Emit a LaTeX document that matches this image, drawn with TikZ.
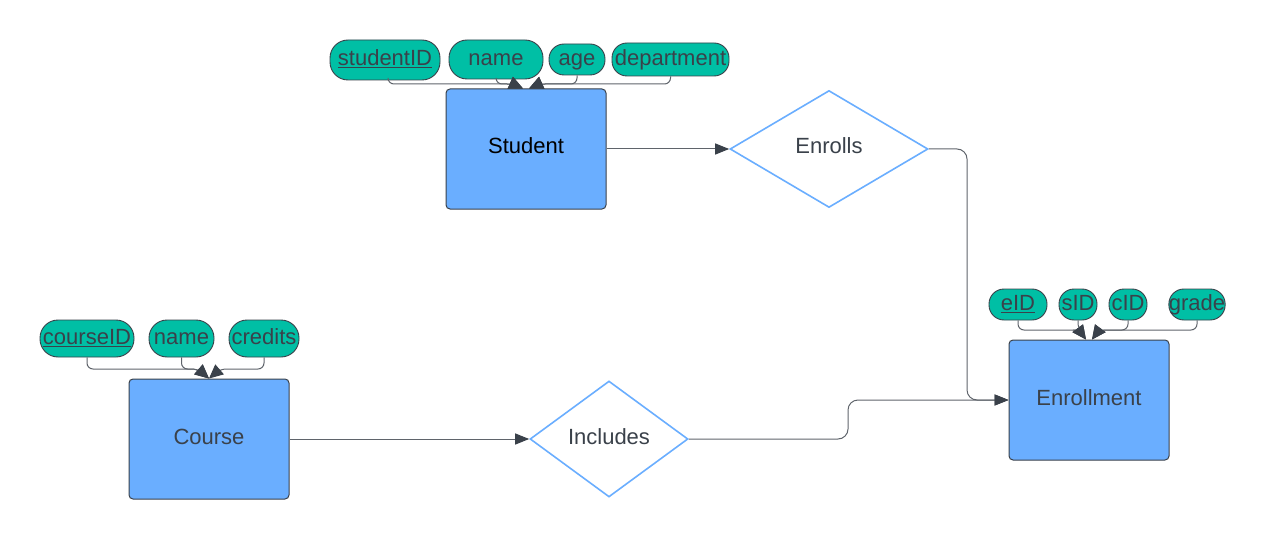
\documentclass[tikz,border=0pt]{standalone}
\usepackage{fontspec}
\setmainfont{Liberation Sans}
\usetikzlibrary{arrows.meta,shapes.geometric,calc}
\definecolor{boxblue}{HTML}{6AAEFF}
\definecolor{attrteal}{HTML}{00BFA5}
\definecolor{txtgray}{HTML}{3A414A}
\definecolor{linegray}{HTML}{5F646B}
\begin{document}
\begin{tikzpicture}[x=1pt,y=-1pt,
  lbl/.style={font=\fontsize{22}{26}\selectfont, text=txtgray, text height=16pt, text depth=6pt},
  entity/.style={lbl, draw=txtgray, fill=boxblue, rounded corners=4pt,
    minimum width=160pt, minimum height=120pt, line width=1pt, inner sep=0pt},
  rel/.style={lbl, diamond, aspect=1.7, draw=boxblue, fill=white, line width=1.6pt,
    minimum width=198pt, minimum height=117pt, inner sep=0pt},
  attr/.style={lbl, text depth=4.5pt, draw=txtgray, fill=attrteal, rounded corners=15pt,
    line width=0.9pt, inner sep=0pt},
  tall/.style={rounded corners=18pt},
  conn/.style={draw=linegray, line width=1pt, rounded corners=6pt,
    -{Triangle[length=14pt,width=13pt,color=txtgray]}},
  link/.style={draw=linegray, line width=1pt, rounded corners=10pt,
    -{Triangle[length=14pt,width=11pt,color=txtgray]}}
]
\useasboundingbox (0,0) rectangle (1265,540);

% entities and relationships
\node[entity, text=black] (stu) at (526,149) {Student};
\node[rel] (enr) at (829,149) {Enrolls};
\node[entity] (ent) at (1089,400) {Enrollment};
\node[entity] (crs) at (209,439) {Course};
\node[rel, minimum width=158pt, minimum height=116pt] (inc) at (609,439) {Includes};

% student attributes
\node[attr, tall, minimum width=110pt, minimum height=40pt] (sid) at (385,60) {\underline{studentID}};
\node[attr, tall, minimum width=94pt, minimum height=39pt] (snm) at (496,59.5) {name};
\node[attr, minimum width=56pt, minimum height=31pt] (sag) at (577,59.5) {age};
\node[attr, minimum width=117pt, minimum height=33pt] (sdp) at (670.5,59.5) {department};

% enrollment attributes
\node[attr, minimum width=58pt, minimum height=31pt] (eid) at (1018,304.5) {\underline{eID}};
\node[attr, minimum width=38pt, minimum height=31pt] (esid) at (1078,304.5) {sID};
\node[attr, minimum width=38pt, minimum height=31pt] (ecid) at (1128,304.5) {cID};
\node[attr, minimum width=56pt, minimum height=31pt] (egr) at (1197,304.5) {grade};

% course attributes
\node[attr, tall, minimum width=94pt, minimum height=37pt] (cid) at (87,338.5) {\underline{courseID}};
\node[attr, tall, minimum width=65pt, minimum height=37pt] (cnm) at (181.5,338.5) {name};
\node[attr, tall, minimum width=70pt, minimum height=37pt] (ccr) at (264,338.5) {credits};

% junction coordinates
\coordinate (sL) at (513,84);
\coordinate (sR) at (539,84);
\coordinate (eL) at (1079,330);
\coordinate (eR) at (1099,330);
\coordinate (cL) at (198,369);
\coordinate (cR) at (220,369);
\coordinate (k1) at (967,400);
\coordinate (k2) at (848,439);
\coordinate (k3) at (848,400);

% attribute connectors
\draw[conn] ([xshift=3pt]sid.south) |- (sL) -- ([xshift=-3pt]stu.north);
\draw[conn] (snm.south) |- (sL) -- ([xshift=-3pt]stu.north);
\draw[conn] (sag.south) |- (sR) -- ([xshift=3pt]stu.north);
\draw[conn] (sdp.south) |- (sR) -- ([xshift=3pt]stu.north);

\draw[conn] (eid.south) |- (eL) -- ([xshift=-3pt]ent.north);
\draw[conn] (esid.south) |- (eL) -- ([xshift=-3pt]ent.north);
\draw[conn] (ecid.south) |- (eR) -- ([xshift=3pt]ent.north);
\draw[conn] (egr.south) |- (eR) -- ([xshift=3pt]ent.north);

\draw[conn] (cid.south) |- (cL) -- (crs.north);
\draw[conn] (cnm.south) |- (cL) -- (crs.north);
\draw[conn] (ccr.south) |- (cR) -- (crs.north);

% relationship connectors
\draw[link] (stu.east) -- (enr.west);
\draw[link] (crs.east) -- (inc.west);
\draw[link] (enr.east) -| (k1) -- (ent.west);
\draw[link] (inc.east) -- (k2) -- (k3) -- (ent.west);
\end{tikzpicture}
\end{document}
